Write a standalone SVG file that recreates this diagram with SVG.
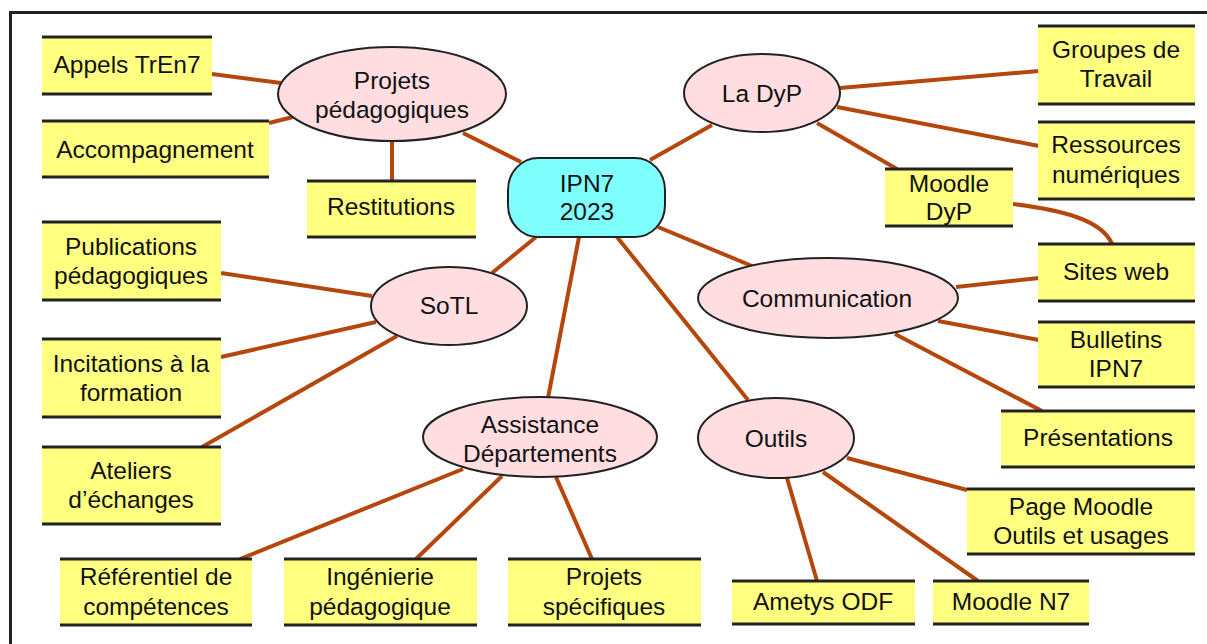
<svg xmlns="http://www.w3.org/2000/svg" width="1207" height="644" viewBox="0 0 1207 644">
<style>
.bg{fill:#ffffff}
.frame{fill:none;stroke:#222;stroke-width:3}
.c{fill:none;stroke:#b5470c;stroke-width:4;stroke-linecap:butt}
.box{fill:#ffff80}
.bl{fill:none;stroke:#222;stroke-width:3}
.ell{fill:#ffdde0;stroke:#222;stroke-width:2}
.hub{fill:#80ffff;stroke:#222;stroke-width:2}
text{font-family:"Liberation Sans",Arial,Helvetica,sans-serif;font-size:24.5px;fill:#111;text-anchor:middle}
</style>
<rect class="bg" x="0" y="0" width="1207" height="644"/>
<path class="frame" d="M10.5,644 V12.5 H1207"/>
<g id="connectors">
<line class="c" x1="212" y1="74" x2="281" y2="83"/>
<line class="c" x1="269" y1="123" x2="293" y2="117"/>
<line class="c" x1="392" y1="142" x2="392" y2="181"/>
<line class="c" x1="463" y1="133" x2="521" y2="162"/>
<line class="c" x1="650" y1="160" x2="712" y2="125"/>
<line class="c" x1="840" y1="88" x2="1039" y2="71"/>
<line class="c" x1="837" y1="107" x2="1039" y2="146"/>
<line class="c" x1="817" y1="123" x2="897" y2="169"/>
<path class="c" d="M1013,204 C1062,210 1102,220 1112,244"/>
<line class="c" x1="956" y1="287" x2="1039" y2="278"/>
<line class="c" x1="938" y1="321" x2="1039" y2="340"/>
<line class="c" x1="895" y1="334" x2="1042" y2="411"/>
<line class="c" x1="658" y1="227" x2="752" y2="266"/>
<line class="c" x1="617" y1="237" x2="748" y2="400"/>
<line class="c" x1="847" y1="458" x2="967" y2="490"/>
<line class="c" x1="823" y1="472" x2="978" y2="581"/>
<line class="c" x1="787" y1="478" x2="817" y2="581"/>
<line class="c" x1="536" y1="237" x2="492" y2="273"/>
<line class="c" x1="579" y1="237" x2="548" y2="398"/>
<line class="c" x1="221" y1="273" x2="372" y2="296"/>
<line class="c" x1="221" y1="357" x2="376" y2="322"/>
<line class="c" x1="202" y1="447" x2="397" y2="336"/>
<line class="c" x1="463" y1="469" x2="240" y2="559"/>
<line class="c" x1="502" y1="476" x2="416" y2="559"/>
<line class="c" x1="556" y1="477" x2="592" y2="559"/>
</g>
<g id="hub">
<rect class="hub" x="508" y="158" width="157" height="79" rx="30" ry="32"/>
<text x="587" y="192">IPN7</text>
<text x="587" y="220">2023</text>
</g>
<g id="projets">
<ellipse class="ell" cx="392" cy="94" rx="114" ry="47"/>
<text x="392" y="89">Projets</text>
<text x="392" y="118">pédagogiques</text>
</g>
<g id="ladyp">
<ellipse class="ell" cx="762" cy="93" rx="78" ry="39"/>
<text x="762" y="102">La DyP</text>
</g>
<g id="sotl">
<ellipse class="ell" cx="449" cy="306" rx="78" ry="39"/>
<text x="449" y="314">SoTL</text>
</g>
<g id="communication">
<ellipse class="ell" cx="828" cy="298" rx="130" ry="40"/>
<text x="827" y="307">Communication</text>
</g>
<g id="assistance">
<ellipse class="ell" cx="540" cy="437" rx="117" ry="40"/>
<text x="540" y="433">Assistance</text>
<text x="540" y="462">Départements</text>
</g>
<g id="outils">
<ellipse class="ell" cx="776" cy="438" rx="78" ry="40"/>
<text x="776" y="447">Outils</text>
</g>
<g id="appels">
<rect class="box" x="42" y="37" width="170" height="57"/>
<path class="bl" d="M42,37 H212 M42,94 H212"/>
<text x="127" y="73">Appels TrEn7</text>
</g>
<g id="accompagnement">
<rect class="box" x="42" y="121" width="227" height="56"/>
<path class="bl" d="M42,121 H269 M42,177 H269"/>
<text x="155" y="158">Accompagnement</text>
</g>
<g id="restitutions">
<rect class="box" x="307" y="181" width="169" height="56"/>
<path class="bl" d="M307,181 H476 M307,237 H476"/>
<text x="391" y="215">Restitutions</text>
</g>
<g id="publications">
<rect class="box" x="42" y="222" width="179" height="78"/>
<path class="bl" d="M42,222 H221 M42,300 H221"/>
<text x="131" y="255">Publications</text>
<text x="131" y="284">pédagogiques</text>
</g>
<g id="incitations">
<rect class="box" x="42" y="339" width="179" height="78"/>
<path class="bl" d="M42,339 H221 M42,417 H221"/>
<text x="131" y="372">Incitations à la</text>
<text x="131" y="401">formation</text>
</g>
<g id="ateliers">
<rect class="box" x="42" y="447" width="179" height="77"/>
<path class="bl" d="M42,447 H221 M42,524 H221"/>
<text x="131" y="479">Ateliers</text>
<text x="131" y="508">d’échanges</text>
</g>
<g id="referentiel">
<rect class="box" x="60" y="559" width="192" height="66"/>
<path class="bl" d="M60,559 H252 M60,625 H252"/>
<text x="156" y="585">Référentiel de</text>
<text x="156" y="615">compétences</text>
</g>
<g id="ingenierie">
<rect class="box" x="284" y="559" width="193" height="66"/>
<path class="bl" d="M284,559 H477 M284,625 H477"/>
<text x="380" y="585">Ingénierie</text>
<text x="380" y="615">pédagogique</text>
</g>
<g id="specifiques">
<rect class="box" x="508" y="559" width="193" height="66"/>
<path class="bl" d="M508,559 H701 M508,625 H701"/>
<text x="604" y="585">Projets</text>
<text x="604" y="615">spécifiques</text>
</g>
<g id="ametys">
<rect class="box" x="732" y="581" width="183" height="43"/>
<path class="bl" d="M732,581 H915 M732,624 H915"/>
<text x="823" y="610">Ametys ODF</text>
</g>
<g id="moodlen7">
<rect class="box" x="933" y="581" width="156" height="43"/>
<path class="bl" d="M933,581 H1089 M933,624 H1089"/>
<text x="1011" y="610">Moodle N7</text>
</g>
<g id="pagemoodle">
<rect class="box" x="967" y="489" width="228" height="65"/>
<path class="bl" d="M967,489 H1195 M967,554 H1195"/>
<text x="1081" y="515">Page Moodle</text>
<text x="1081" y="544">Outils et usages</text>
</g>
<g id="presentations">
<rect class="box" x="1001" y="411" width="194" height="56"/>
<path class="bl" d="M1001,411 H1195 M1001,467 H1195"/>
<text x="1098" y="446">Présentations</text>
</g>
<g id="bulletins">
<rect class="box" x="1038" y="322" width="157" height="65"/>
<path class="bl" d="M1038,322 H1195 M1038,387 H1195"/>
<text x="1116" y="348">Bulletins</text>
<text x="1116" y="377">IPN7</text>
</g>
<g id="sitesweb">
<rect class="box" x="1038" y="244" width="157" height="57"/>
<path class="bl" d="M1038,244 H1195 M1038,301 H1195"/>
<text x="1116" y="280">Sites web</text>
</g>
<g id="ressources">
<rect class="box" x="1038" y="122" width="157" height="77"/>
<path class="bl" d="M1038,122 H1195 M1038,199 H1195"/>
<text x="1116" y="153">Ressources</text>
<text x="1116" y="183">numériques</text>
</g>
<g id="groupes">
<rect class="box" x="1038" y="26" width="157" height="78"/>
<path class="bl" d="M1038,26 H1195 M1038,104 H1195"/>
<text x="1116" y="58">Groupes de</text>
<text x="1116" y="87">Travail</text>
</g>
<g id="moodledyp">
<rect class="box" x="885" y="169" width="128" height="57"/>
<path class="bl" d="M885,169 H1013 M885,226 H1013"/>
<text x="949" y="192">Moodle</text>
<text x="949" y="220">DyP</text>
</g>
</svg>
